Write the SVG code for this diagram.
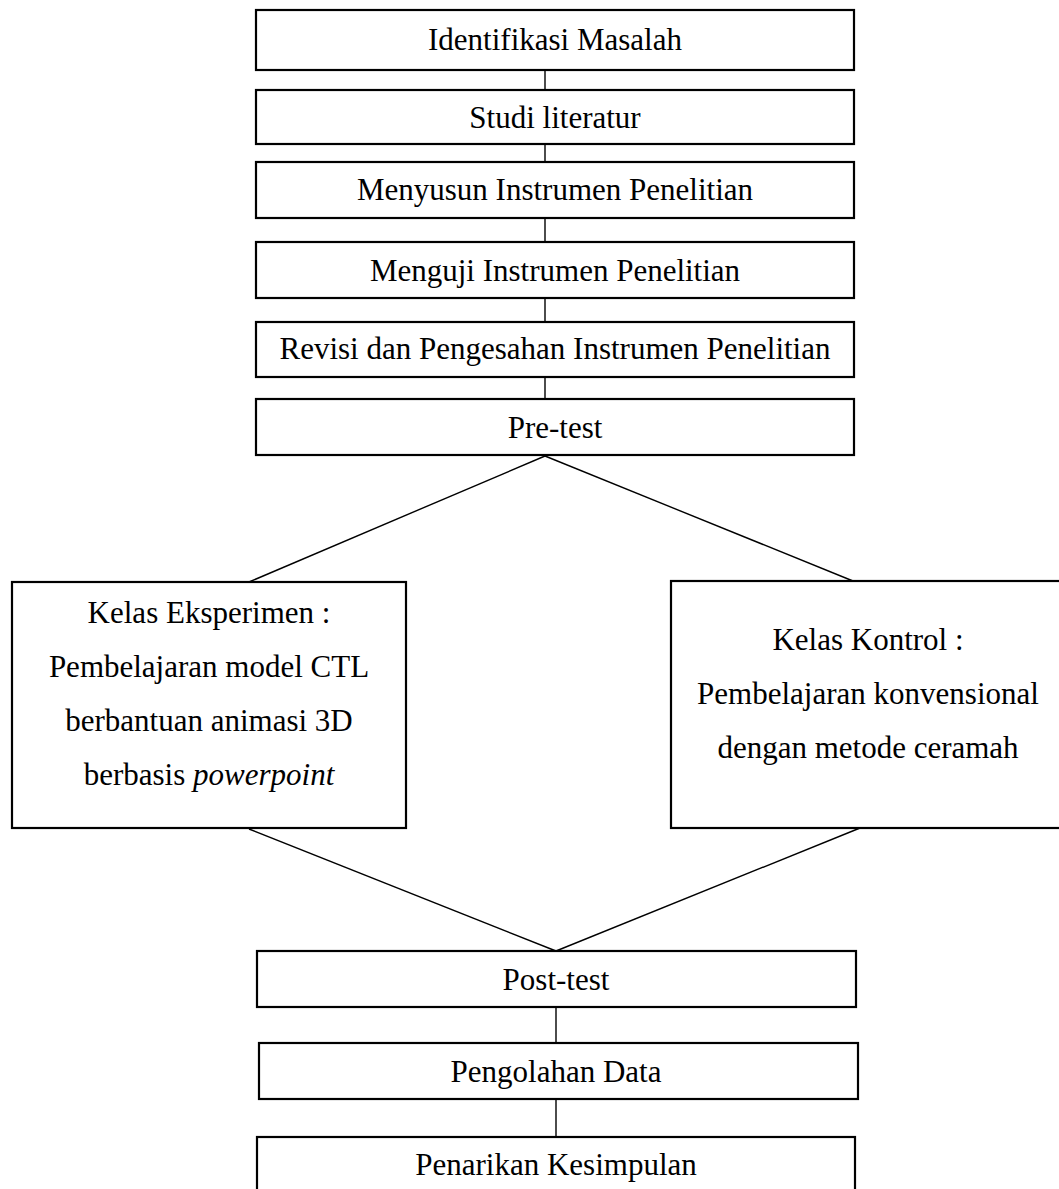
<svg xmlns="http://www.w3.org/2000/svg" width="1059" height="1189" viewBox="0 0 1059 1189">
<style>
.box{fill:#fff;stroke:#000;stroke-width:2.2}
.ln{fill:none;stroke:#000;stroke-width:1.4}
text{font-family:"Liberation Serif","Times New Roman",serif;font-size:31px;fill:#000;text-anchor:middle}
</style>
<rect width="1059" height="1189" fill="#fff"/>
<g id="connectors">
<line class="ln" x1="545" y1="70" x2="545" y2="90"/>
<line class="ln" x1="545" y1="144" x2="545" y2="162"/>
<line class="ln" x1="545" y1="218" x2="545" y2="242"/>
<line class="ln" x1="545" y1="298" x2="545" y2="322"/>
<line class="ln" x1="545" y1="377" x2="545" y2="399"/>
<line class="ln" x1="545" y1="456" x2="249" y2="582"/>
<line class="ln" x1="545" y1="456" x2="853" y2="581"/>
<line class="ln" x1="249" y1="829" x2="556" y2="951"/>
<line class="ln" x1="860" y1="828" x2="556" y2="951"/>
<line class="ln" x1="556" y1="1007" x2="556" y2="1043"/>
<line class="ln" x1="556" y1="1099" x2="556" y2="1137"/>
</g>
<g id="n1"><rect class="box" x="256" y="10" width="598" height="60"/><text x="555" y="50">Identifikasi Masalah</text></g>
<g id="n2"><rect class="box" x="256" y="90" width="598" height="54"/><text x="555" y="128">Studi literatur</text></g>
<g id="n3"><rect class="box" x="256" y="162" width="598" height="56"/><text x="555" y="200">Menyusun Instrumen Penelitian</text></g>
<g id="n4"><rect class="box" x="256" y="242" width="598" height="56"/><text x="555" y="281">Menguji Instrumen Penelitian</text></g>
<g id="n5"><rect class="box" x="256" y="322" width="598" height="55"/><text x="555" y="359">Revisi dan Pengesahan Instrumen Penelitian</text></g>
<g id="n6"><rect class="box" x="256" y="399" width="598" height="56"/><text x="555" y="438">Pre-test</text></g>
<g id="n7"><rect class="box" x="12" y="582" width="394" height="246"/>
<text x="209" y="623">Kelas Eksperimen :</text>
<text x="209" y="677">Pembelajaran model CTL</text>
<text x="209" y="731">berbantuan animasi 3D</text>
<text x="209" y="785">berbasis <tspan font-style="italic">powerpoint</tspan></text></g>
<g id="n8"><rect class="box" x="671" y="581" width="394" height="247"/>
<text x="868" y="650">Kelas Kontrol :</text>
<text x="868" y="704">Pembelajaran konvensional</text>
<text x="868" y="758">dengan metode ceramah</text></g>
<g id="n9"><rect class="box" x="257" y="951" width="599" height="56"/><text x="556" y="990">Post-test</text></g>
<g id="n10"><rect class="box" x="259" y="1043" width="599" height="56"/><text x="556" y="1082">Pengolahan Data</text></g>
<g id="n11"><rect class="box" x="257" y="1137" width="598" height="70"/><text x="556" y="1175">Penarikan Kesimpulan</text></g>
</svg>
